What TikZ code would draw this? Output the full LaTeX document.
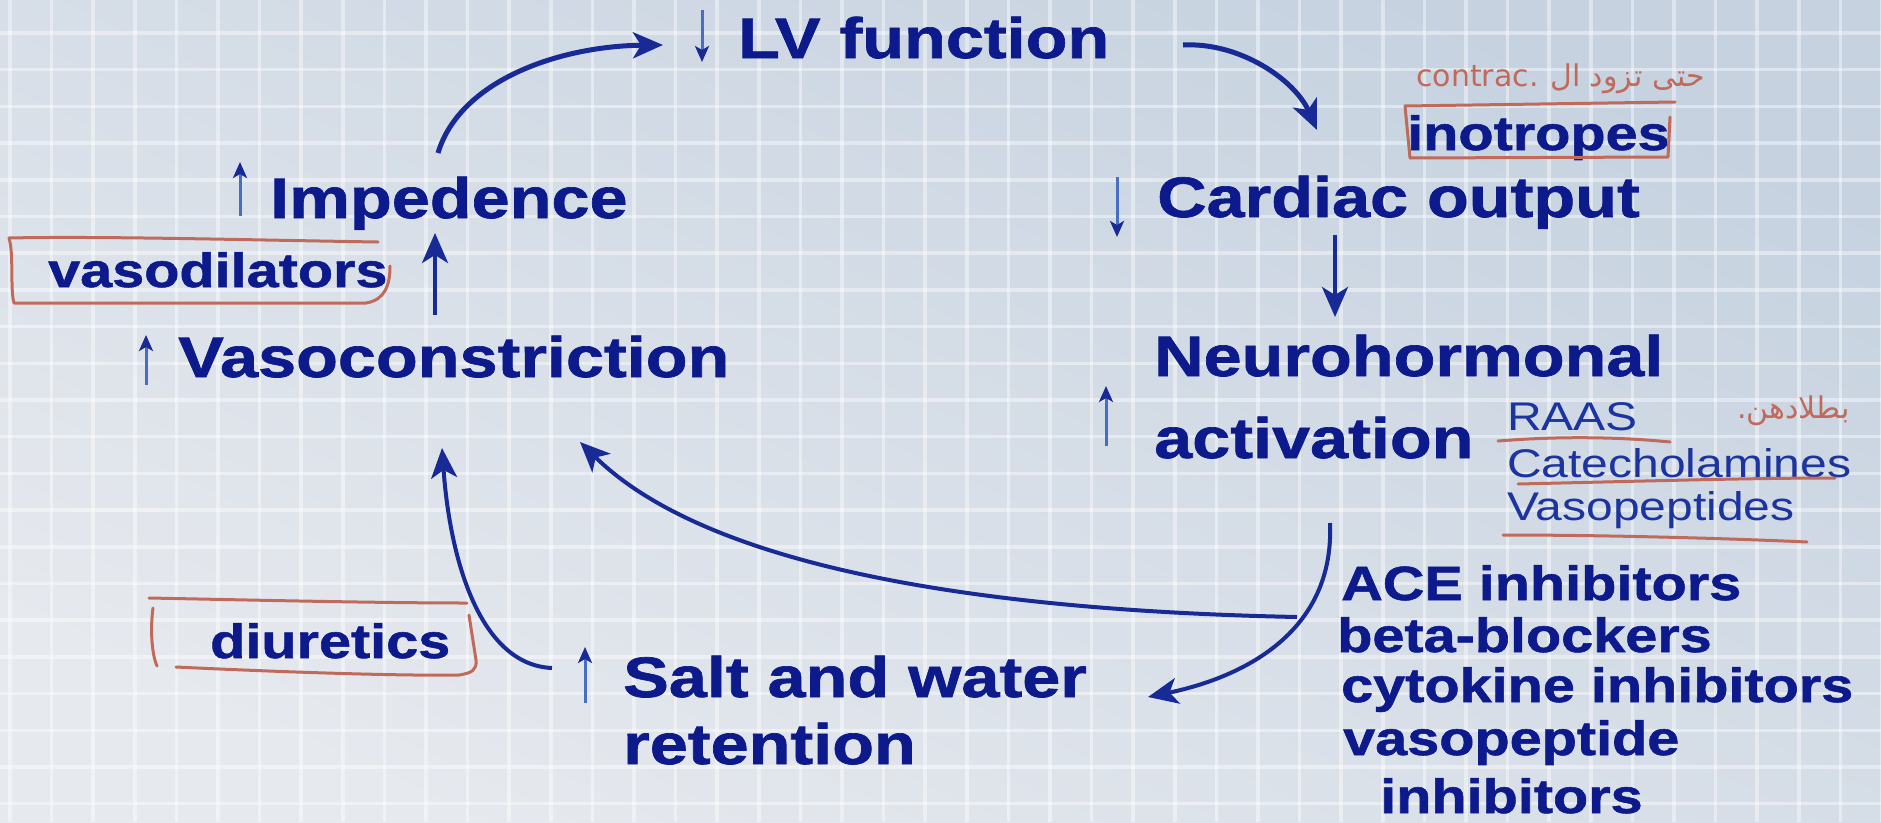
\documentclass[tikz,border=0pt]{standalone}
\usepackage{fontspec}
\setmainfont{Liberation Sans}
\newfontfamily\wf[FakeStretch=1.2]{Liberation Sans}
\newfontfamily\wfb[FakeStretch=1.2,FakeBold=1.2]{Liberation Sans Bold}
\newfontfamily\arabicfont[Script=Arabic]{DejaVu Sans}
\newfontfamily\handfont{DejaVu Sans}
\TeXXeTstate=1
\usetikzlibrary{arrows.meta}
\definecolor{navy}{RGB}{12,26,140}
\definecolor{listblue}{RGB}{28,52,160}
\definecolor{arrowblue}{RGB}{24,42,150}
\definecolor{lightarrow}{RGB}{70,110,195}
\definecolor{handred}{RGB}{192,106,92}
\definecolor{bgtop}{RGB}{198,210,224}
\definecolor{bgbot}{RGB}{230,233,238}
\begin{document}
\begin{tikzpicture}[x=1pt,y=-1pt,
  big/.style={anchor=base west, inner sep=0pt, text=navy, font=\wfb\fontsize{57}{60}\selectfont},
  mid/.style={anchor=base west, inner sep=0pt, text=navy, font=\wfb\fontsize{48}{52}\selectfont},
  lst/.style={anchor=base west, inner sep=0pt, text=listblue, font=\wf\fontsize{40}{44}\selectfont},
  hw/.style={anchor=base west, inner sep=0pt, text=handred, font=\handfont\fontsize{30}{34}\selectfont},
  flow/.style={draw=arrowblue, line width=5pt, -{Stealth[length=30pt,width=26pt,inset=8pt]}},
  sym/.style={draw=lightarrow, line width=3pt, -{Stealth[length=16pt,width=14pt,inset=4pt,color=arrowblue]}},
  redpen/.style={draw=handred, line width=3pt, line cap=round, line join=round},
  gridline/.style={draw=white, opacity=0.42, line width=3.5pt}
]
\useasboundingbox (0,0) rectangle (1881,822);
% background
\shade[top color=bgtop, bottom color=bgbot, shading angle=-25] (0,0) rectangle (1881,822);
\foreach \i in {0,...,45} \draw[gridline] ({10+41.6*\i},0) -- ({10+41.6*\i},822);
\foreach \j in {0,...,21} \draw[gridline] (0,{33+36.7*\j}) -- (1881,{33+36.7*\j});

% main labels
\node[big] (lv) at (738,58) {LV function};
\node[big] (imp) at (270,218) {Impedence};
\node[big] (vaso) at (178,377) {Vasoconstriction};
\node[big] (co) at (1157,217) {Cardiac output};
\node[big] (neuro) at (1154,376) {Neurohormonal};
\node[big] (act) at (1154,458) {activation};
\node[big] (salt) at (623,697) {Salt and water};
\node[big] (ret) at (623,764) {retention};

% drug labels
\node[mid] (vasod) at (48,287) {vasodilators};
\node[mid] (ino) at (1407,150) {inotropes};
\node[mid] (diur) at (210,658) {diuretics};
\node[lst] (raas) at (1507,430) {RAAS};
\node[lst] (cat) at (1507,477) {Catecholamines};
\node[lst] (vp) at (1507,520) {Vasopeptides};
\node[mid] (ace) at (1341,600) {ACE inhibitors};
\node[mid] (beta) at (1337,652) {beta-blockers};
\node[mid] (cyto) at (1341,702) {cytokine inhibitors};
\node[mid] (vpi) at (1343,755) {vasopeptide};
\node[mid] (inh) at (1380,813) {inhibitors};

% small up/down symbols
\draw[sym] (702,10) -- (702,62);
\draw[sym] (240,216) -- (240,162);
\draw[sym] (146,385) -- (146,335);
\draw[sym] (1117,177) -- (1117,237);
\draw[sym] (1106,446) -- (1106,386);
\draw[sym] (585,703) -- (585,647);

% connector end points
\coordinate (impTop) at (438,153);
\coordinate (lvIn) at (663,45);
\coordinate (lvOut) at (1183,45);
\coordinate (inoIn) at (1317,130);
\coordinate (coOut) at (1335,235);
\coordinate (neuroIn) at (1335,317);
\coordinate (neuroOut) at (1330,523);
\coordinate (saltIn) at (1148,697);
\coordinate (branch) at (1297,617);
\coordinate (vasoInR) at (580,442);
\coordinate (saltOut) at (552,668);
\coordinate (vasoInL) at (442,448);
\coordinate (vasoOut) at (435,315);
\coordinate (impIn) at (435,233);

% connectors
\draw[flow] (impTop) .. controls (460,80) and (560,46) .. (lvIn);
\draw[flow] (lvOut) .. controls (1240,42) and (1295,80) .. (inoIn);
\draw[flow, line width=4pt] (coOut) -- (neuroIn);
\draw[flow, line width=4pt] (neuroOut) .. controls (1335,640) and (1230,680) .. (saltIn);
\draw[flow, line width=4pt] (branch) .. controls (950,610) and (700,560) .. (vasoInR);
\draw[flow, line width=4pt] (saltOut) .. controls (480,665) and (450,560) .. (vasoInL);
\draw[flow, line width=4pt] (vasoOut) -- (impIn);

% handwritten annotations
\draw[redpen] (378,242) .. controls (250,240) and (100,236) .. (9,238) .. controls (14,255) and (10,290) .. (14,303) -- (366,303) .. controls (385,300) and (390,285) .. (390,266);
\draw[redpen] (1675,102) -- (1405,106) -- (1410,158) -- (1668,157) -- (1670,117);
\draw[redpen] (149,598) .. controls (250,600) and (380,603) .. (467,603);
\draw[redpen] (153,608) .. controls (150,630) and (152,655) .. (157,666);
\draw[redpen] (176,667) .. controls (280,672) and (400,676) .. (459,675) .. controls (472,673) and (477,670) .. (476,660) -- (469,615);
\draw[redpen] (1498,441) .. controls (1560,436) and (1620,437) .. (1670,442);
\draw[redpen] (1518,484) .. controls (1650,481) and (1750,478) .. (1835,478);
\draw[redpen] (1503,535) .. controls (1600,535) and (1720,538) .. (1807,542);
\node[hw] (contrac) at (1416,86) {contrac.};
\node[hw, anchor=base east] (arab1) at (1705,86) {\arabicfont\beginR حتى تزود ال\endR};
\node[hw, anchor=base east] (arab2) at (1850,418) {\arabicfont\beginR بطلادهن.\endR};
\end{tikzpicture}
\end{document}
